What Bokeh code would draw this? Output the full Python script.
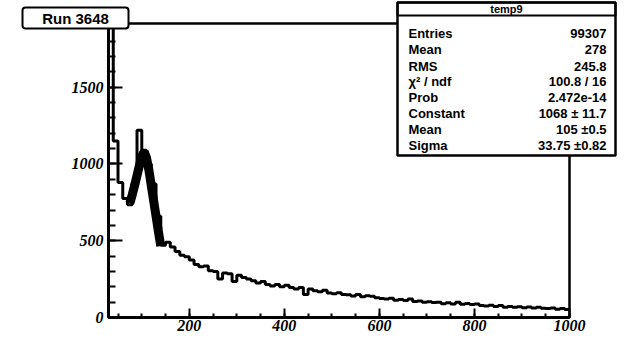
from bokeh.plotting import figure
from bokeh.models import BoxAnnotation, Label, SingleIntervalTicker, Range1d
from bokeh.embed import file_html
from bokeh.resources import INLINE

# ---- data ----
bin_width = 10
bin_low = list(range(30, 1000, bin_width))
counts = [
    1950, 1150, 880, 775, 735, 880, 1220, 1090, 1000, 870,
    660, 470, 490, 460, 430, 405, 395, 375, 345, 330,
    335, 305, 300, 250, 290, 285, 235, 275, 260, 250,
    240, 225, 235, 215, 205, 215, 200, 210, 195, 185,
    195, 150, 185, 175, 168, 178, 160, 155, 162, 150,
    148, 140, 150, 135, 142, 138, 128, 124, 120, 126,
    113, 117, 110, 120, 104, 108, 100, 103, 97, 100,
    90, 96, 88, 100, 86, 92, 84, 88, 78, 75,
    80, 72, 78, 66, 72, 66, 70, 64, 68, 62,
    66, 60, 58, 62, 54, 58, 52,
]
fit_x = [75, 80, 85, 90, 95, 100, 105, 110, 115, 120, 125, 130, 135, 140]
fit_y = [745, 800, 860, 925, 990, 1050, 1080, 1040, 960, 860, 760, 660, 560, 465]

x_min, x_max = 30, 1000
y_min, y_max = 0, 1915

run_title = "Run 3648"
stats_title = "temp9"
stats_names = ["Entries", "Mean", "RMS", "\u03c7\u00b2 / ndf", "Prob", "Constant", "Mean", "Sigma"]
stats_values = ["99307", "278", "245.8", "100.8 / 16", "2.472e-14", "1068 \u00b1 11.7", "105 \u00b10.5", "33.75 \u00b10.82"]

# ---- layout (canvas pixels) ----
W, H = 624, 337
FL, FR, FT, FB = 108, 569, 23, 317   # histogram frame edges
sxu = (FR - FL) / (x_max - x_min)
syu = (FB - FT) / (y_max - y_min)
xr = Range1d(x_min - FL / sxu, x_max + (W - FR) / sxu)
yr = Range1d(y_min - (H - FB) / syu, y_max + FT / syu)

p = figure(width=W, height=H, output_backend="svg", toolbar_location=None,
           x_range=xr, y_range=yr, min_border=0,
           min_border_left=0, min_border_right=0, min_border_top=0, min_border_bottom=0)
p.xgrid.visible = False
p.ygrid.visible = False
p.outline_line_color = None
p.background_fill_color = "white"
p.border_fill_color = "white"

p.xaxis.ticker = SingleIntervalTicker(interval=200, num_minor_ticks=4)
p.yaxis.ticker = SingleIntervalTicker(interval=500, num_minor_ticks=5)
p.xaxis.fixed_location = y_min
p.yaxis.fixed_location = x_min
p.xaxis.bounds = (x_min, x_max)
p.yaxis.bounds = (y_min, y_max)
for ax, mj, mn in ((p.xaxis, 9, 4), (p.yaxis, 14, 7)):
    ax.axis_line_width = 3
    ax.axis_line_color = "black"
    ax.major_tick_in = mj
    ax.major_tick_out = 0
    ax.minor_tick_in = mn
    ax.minor_tick_out = 0
    ax.major_tick_line_width = 2
    ax.minor_tick_line_width = 2
    ax.major_tick_line_color = "black"
    ax.minor_tick_line_color = "black"
    ax.major_label_text_font = "Liberation Serif"
    ax.major_label_text_font_style = "bold italic"
    ax.major_label_text_font_size = "16px"
    ax.major_label_text_color = "black"
p.xaxis.major_label_standoff = 2
p.yaxis.major_label_standoff = 5

step_x = bin_low + [x_max]
step_y = counts + [counts[-1]]
p.step(step_x, step_y, mode="after", line_color="black", line_width=3)
p.line(fit_x, fit_y, line_color="black", line_width=9)

# frame (top and right lines)
p.add_layout(BoxAnnotation(left=x_min, right=x_max, bottom=y_min, top=y_max,
                           fill_alpha=0.0, line_color="black", line_width=2.5, line_alpha=1.0))

def sx(cx):
    return cx

def sy(cy):
    return H - cy

def sbox(l, r, t, b, **kw):
    return BoxAnnotation(left=sx(l), right=sx(r), top=sy(t), bottom=sy(b),
                         left_units="screen", right_units="screen",
                         top_units="screen", bottom_units="screen", **kw)

def slabel(x, y, text, align, size):
    return Label(x=sx(x), y=sy(y), x_units="screen", y_units="screen",
                 text=text, text_align=align, text_baseline="middle",
                 text_font="Liberation Sans", text_font_style="bold",
                 text_font_size=size, text_color="black")

# Run box
p.add_layout(sbox(22, 128, 7, 28, fill_color="white", fill_alpha=1.0,
                  line_color="black", line_width=2, line_alpha=1.0, border_radius=3))
p.add_layout(slabel(75, 18, run_title, "center", "15px"))

# Stats box
p.add_layout(sbox(397, 615, 2, 155, fill_color="white", fill_alpha=1.0,
                  line_color="black", line_width=2.5, line_alpha=1.0))
p.add_layout(sbox(397, 615, 2, 15, fill_alpha=0.0,
                  line_color="black", line_width=2, line_alpha=1.0))
p.add_layout(slabel(506, 8.5, stats_title, "center", "11px"))
row_y = [32.5, 49, 65.5, 80.5, 97, 113, 129, 145]
for name, val, ry in zip(stats_names, stats_values, row_y):
    p.add_layout(slabel(408, ry, name, "left", "13px"))
    p.add_layout(slabel(606, ry, val, "right", "13px"))

open("out.html", "w").write(file_html(p, INLINE))
